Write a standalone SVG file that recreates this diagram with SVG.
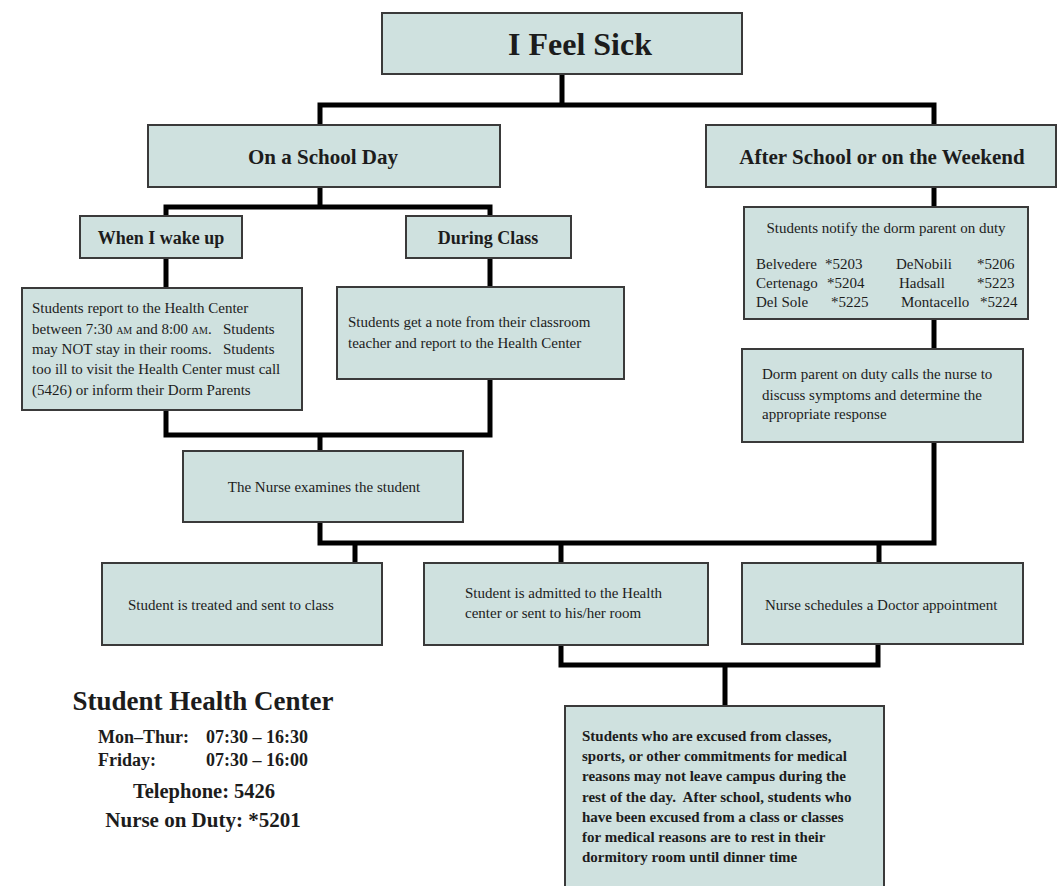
<svg xmlns="http://www.w3.org/2000/svg" width="1058" height="886" viewBox="0 0 1058 886">
<style>
.box{fill:#cfe1df;stroke:#3a3a3a;stroke-width:2}
.t{font-family:"Liberation Serif","Times New Roman",serif;fill:#1c1c1c}
.b{font-weight:bold}
.c{text-anchor:middle}
.body{font-size:15px}
.con{fill:none;stroke:#000;stroke-width:5;stroke-linejoin:miter}
</style>
<rect width="1058" height="886" fill="#fff"/>
<g id="connectors">
<path class="con" d="M562,74 V105 M320,125 V105 H934 V125"/>
<path class="con" d="M320,187 V207 M166,216 V207 H490 V216"/>
<path class="con" d="M166,258 V288 M490,258 V287"/>
<path class="con" d="M934,187 V207 M934,319 V349"/>
<path class="con" d="M166,410 V435 H490 V379 M320,435 V451"/>
<path class="con" d="M320,522 V543 H934 V442 M355,543 V563 M561,543 V563 M879,543 V563"/>
<path class="con" d="M561,645 V665 H878 V643 M725,665 V706"/>
</g>
<g id="n-sick">
<rect class="box" x="382" y="13" width="360" height="61"/>
<text class="t b c" x="580" y="55" font-size="32">I Feel Sick</text>
</g>
<g id="n-school">
<rect class="box" x="148" y="125" width="352" height="62"/>
<text class="t b c" x="323" y="164" font-size="21">On a School Day</text>
</g>
<g id="n-weekend">
<rect class="box" x="706" y="125" width="350" height="62"/>
<text class="t b c" x="882" y="164" font-size="21">After School or on the Weekend</text>
</g>
<g id="n-wake">
<rect class="box" x="80" y="216" width="162" height="42"/>
<text class="t b c" x="161" y="244" font-size="18">When I wake up</text>
</g>
<g id="n-class">
<rect class="box" x="406" y="216" width="165" height="42"/>
<text class="t b c" x="488" y="244" font-size="18">During Class</text>
</g>
<g id="n-wake-text">
<rect class="box" x="22" y="288" width="280" height="122"/>
<text class="t body" x="32" y="313">Students report to the Health Center</text>
<text class="t body" x="32" y="334" xml:space="preserve">between 7:30 <tspan font-size="10">AM</tspan> and 8:00 <tspan font-size="10">AM</tspan>.   Students</text>
<text class="t body" x="32" y="354" xml:space="preserve">may NOT stay in their rooms.   Students</text>
<text class="t body" x="32" y="374">too ill to visit the Health Center must call</text>
<text class="t body" x="32" y="395">(5426) or inform their Dorm Parents</text>
</g>
<g id="n-class-text">
<rect class="box" x="337" y="287" width="287" height="92"/>
<text class="t body" x="348" y="327">Students get a note from their classroom</text>
<text class="t body" x="348" y="348">teacher and report to the Health Center</text>
</g>
<g id="n-notify">
<rect class="box" x="744" y="207" width="284" height="112"/>
<text class="t body c" x="886" y="233">Students notify the dorm parent on duty</text>
<text class="t body" x="756" y="269">Belvedere</text>
<text class="t body" x="825" y="269">*5203</text>
<text class="t body" x="896" y="269">DeNobili</text>
<text class="t body" x="977" y="269">*5206</text>
<text class="t body" x="756" y="288">Certenago</text>
<text class="t body" x="827" y="288">*5204</text>
<text class="t body" x="899" y="288">Hadsall</text>
<text class="t body" x="977" y="288">*5223</text>
<text class="t body" x="756" y="307">Del Sole</text>
<text class="t body" x="831" y="307">*5225</text>
<text class="t body" x="901" y="307">Montacello</text>
<text class="t body" x="980" y="307">*5224</text>
</g>
<g id="n-dorm">
<rect class="box" x="742" y="349" width="281" height="93"/>
<text class="t body" x="762" y="379">Dorm parent on duty calls the nurse to</text>
<text class="t body" x="762" y="400">discuss symptoms and determine the</text>
<text class="t body" x="762" y="419">appropriate response</text>
</g>
<g id="n-nurse">
<rect class="box" x="183" y="451" width="280" height="71"/>
<text class="t body c" x="324" y="492">The Nurse examines the student</text>
</g>
<g id="n-treated">
<rect class="box" x="102" y="563" width="280" height="82"/>
<text class="t body" x="128" y="610">Student is treated and sent to class</text>
</g>
<g id="n-admitted">
<rect class="box" x="424" y="563" width="284" height="82"/>
<text class="t body" x="465" y="598">Student is admitted to the Health</text>
<text class="t body" x="465" y="618">center or sent to his/her room</text>
</g>
<g id="n-doctor">
<rect class="box" x="742" y="563" width="281" height="81"/>
<text class="t body" x="765" y="610">Nurse schedules a Doctor appointment</text>
</g>
<g id="n-excused">
<rect class="box" x="565" y="706" width="319" height="190"/>
<text class="t b body" x="582" y="741">Students who are excused from classes,</text>
<text class="t b body" x="582" y="761">sports, or other commitments for medical</text>
<text class="t b body" x="582" y="781">reasons may not leave campus during the</text>
<text class="t b body" x="582" y="802" xml:space="preserve">rest of the day.  After school, students who</text>
<text class="t b body" x="582" y="822">have been excused from a class or classes</text>
<text class="t b body" x="582" y="842">for medical reasons are to rest in their</text>
<text class="t b body" x="582" y="862">dormitory room until dinner time</text>
</g>
<g id="info">
<text class="t b c" x="203" y="710" font-size="27">Student Health Center</text>
<text class="t b" x="98" y="743" font-size="18">Mon–Thur:</text>
<text class="t b" x="206" y="743" font-size="18">07:30 – 16:30</text>
<text class="t b" x="98" y="766" font-size="18">Friday:</text>
<text class="t b" x="206" y="766" font-size="18">07:30 – 16:00</text>
<text class="t b c" x="204" y="798" font-size="20.5">Telephone: 5426</text>
<text class="t b c" x="203" y="827" font-size="21">Nurse on Duty: *5201</text>
</g>
</svg>
